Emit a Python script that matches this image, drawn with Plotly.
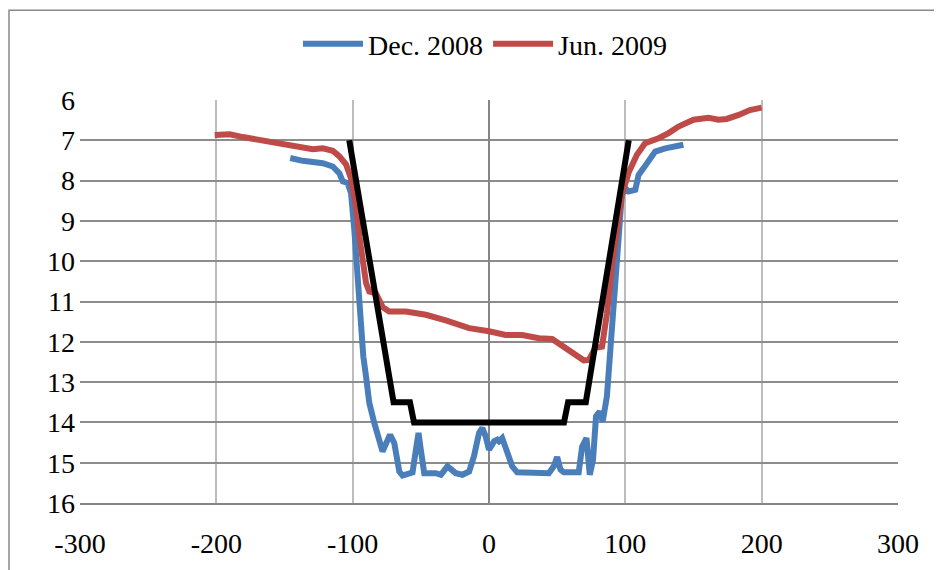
import plotly.graph_objects as go

# Dec. 2008 profile
dec_x = [-145.8, -136.6, -121.9, -114.6, -109.7, -107.3, -103.7, -101.2, -98.8, -97.1,
         -95.6, -93.9, -92.2, -90.2, -87.8, -84.1, -81.7, -78.1, -73.2, -71.9,
         -69.5, -65.8, -63.4, -56.1, -53.6, -51.7, -50.0, -47.5, -39.0, -35.3,
         -30.5, -24.4, -19.5, -14.6, -11.0, -7.3, -4.9, -2.4, 0.0, 3.7,
         6.1, 7.3, 9.7, 13.4, 17.0, 20.7, 26.8, 29.3, 36.6, 43.9,
         47.5, 50.0, 52.4, 54.9, 65.8, 68.3, 71.5, 73.9, 76.3, 78.5,
         81.2, 83.4, 86.5, 89.0, 91.4, 93.9, 96.3, 97.5, 101.2, 102.4,
         107.3, 109.7, 113.4, 121.9, 129.3, 142.6]
dec_y = [7.44, 7.51, 7.57, 7.65, 7.82, 8.02, 8.06, 8.31, 9.22, 10.05,
         10.88, 11.70, 12.36, 12.86, 13.52, 14.02, 14.35, 14.72, 14.35, 14.35,
         14.51, 15.22, 15.32, 15.24, 14.68, 14.26, 14.68, 15.26, 15.26, 15.30,
         15.09, 15.26, 15.30, 15.22, 14.84, 14.26, 14.14, 14.35, 14.68, 14.47,
         14.43, 14.47, 14.39, 14.76, 15.09, 15.24, 15.24, 15.27, 15.27, 15.26,
         15.09, 14.86, 15.17, 15.24, 15.24, 14.60, 14.39, 15.30, 14.93, 13.85,
         13.73, 13.98, 13.35, 12.20, 10.96, 9.72, 8.81, 8.31, 8.23, 8.27,
         8.23, 7.86, 7.69, 7.28, 7.20, 7.11]

# Jun. 2009 profile
jun_x = [-201.2, -190.2, -180.5, -163.4, -148.7, -136.6, -129.3, -121.9, -114.6, -109.7,
         -104.8, -101.2, -97.6, -95.1, -92.7, -90.2, -87.8, -82.9, -78.0, -73.2,
         -61.0, -46.3, -31.7, -14.6, 0.0, 12.2, 24.4, 36.6, 46.3, 58.5,
         69.5, 73.2, 78.0, 82.9, 86.5, 90.2, 93.9, 97.5, 102.4, 108.5,
         114.6, 124.4, 131.7, 139.0, 150.0, 161.0, 168.3, 174.3, 183.1, 191.4,
         200.0]
jun_y = [6.87, 6.85, 6.92, 7.01, 7.09, 7.16, 7.22, 7.20, 7.26, 7.40,
         7.60, 7.95, 8.64, 9.39, 10.05, 10.54, 10.75, 10.80, 11.14, 11.25,
         11.25, 11.33, 11.47, 11.66, 11.74, 11.83, 11.83, 11.91, 11.93, 12.20,
         12.46, 12.45, 12.15, 12.12, 11.30, 10.10, 9.10, 8.35, 7.80, 7.36,
         7.07, 6.95, 6.82, 6.66, 6.49, 6.44, 6.49, 6.47, 6.37, 6.25,
         6.19]

# Design cross-section
design_x = [-102.5, -70, -58, -55, 55, 58, 71, 102.5]
design_y = [7, 13.5, 13.5, 14, 14, 13.5, 13.5, 7]

series_names = ["Dec. 2008", "Jun. 2009"]
x_ticks = [-300, -200, -100, 0, 100, 200, 300]
y_ticks = [6, 7, 8, 9, 10, 11, 12, 13, 14, 15, 16]

FONT = "Liberation Serif"
FS = 28

fig = go.Figure()
fig.add_trace(go.Scatter(x=dec_x, y=dec_y, mode="lines", name=series_names[0],
                         line=dict(color="#4a7ebb", width=6)))
fig.add_trace(go.Scatter(x=jun_x, y=jun_y, mode="lines", name=series_names[1],
                         line=dict(color="#be4b48", width=6)))
fig.add_trace(go.Scatter(x=design_x, y=design_y, mode="lines", showlegend=False,
                         line=dict(color="#000000", width=6)))

# page is offset by 8px body margin
OFF = 8
L, R, T, B = 72, 52, 91, 75
W, H = 942, 570
pw, ph = W - L - R, H - T - B

def px_x(p):
    return (p - OFF - L) / pw

def px_y(p):
    return 1 - (p - OFF - T) / ph

fig.update_layout(
    width=W, height=H,
    margin=dict(l=L, r=R, t=T, b=B),
    paper_bgcolor="white", plot_bgcolor="white",
    font=dict(family=FONT, size=FS, color="black"),
    legend=dict(orientation="h", x=px_x(485), xanchor="center", y=px_y(44), yanchor="middle",
                font=dict(family=FONT, size=FS), itemwidth=60, tracegroupgap=0),
    shapes=[dict(type="rect", xref="paper", yref="paper",
                 x0=px_x(9), x1=px_x(970), y0=px_y(600), y1=px_y(9),
                 line=dict(color="#898989", width=1.5), fillcolor="rgba(0,0,0,0)", layer="below")],
)
fig.update_xaxes(range=[-300, 300], tickvals=x_ticks, ticktext=[str(v) for v in x_ticks],
                 showgrid=True, gridcolor="#bdbdbd", gridwidth=1.5,
                 zeroline=True, zerolinecolor="#868686", zerolinewidth=1.5,
                 showline=True, linecolor="#868686", linewidth=1.5,
                 ticks="", ticklabelstandoff=15, tickfont=dict(family=FONT, size=FS))
fig.update_yaxes(range=[16, 6], tickvals=y_ticks, ticktext=[str(v) for v in y_ticks],
                 showgrid=True, gridcolor="#8c8c8c", gridwidth=1.5,
                 zeroline=False, showline=False,
                 ticks="", ticklabelstandoff=4, tickfont=dict(family=FONT, size=FS))

fig.write_html("out.html")
